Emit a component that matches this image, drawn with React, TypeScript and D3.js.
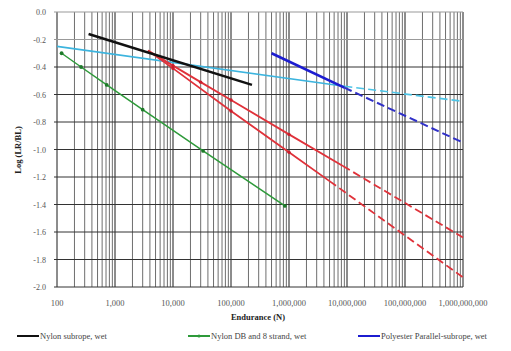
import React from 'react';
import * as d3 from 'd3';

// endurance (cycles) vs log(LR/BL)
const xTicks = [100, 1000, 10000, 100000, 1000000, 10000000, 100000000, 1000000000];
const yTicks = [0, -0.2, -0.4, -0.6, -0.8, -1.0, -1.2, -1.4, -1.6, -1.8, -2.0];

const nylonSubrope = [[350, -0.16], [230000, -0.53]];
const nylonDB = [[120, -0.30], [260, -0.40], [720, -0.53], [3000, -0.71], [33000, -1.01], [850000, -1.41]];
const polyesterSolid = [[500000, -0.30], [9000000, -0.55]];
const polyesterDash = [[9000000, -0.55], [1000000000, -0.95]];
const cyanSolid = [[100, -0.25], [9000000, -0.54]];
const cyanDash = [[9000000, -0.54], [1000000000, -0.65]];
const redASolid = [[3700, -0.28], [10000, -0.39], [30000, -0.51], [100000, -0.64], [1000000, -0.89], [8500000, -1.12]];
const redADash = [[8500000, -1.12], [1000000000, -1.64]];
const redBSolid = [[3700, -0.28], [10000, -0.41], [100000, -0.72], [1000000, -1.02], [5000000, -1.23]];
const redBDash = [[5000000, -1.23], [1000000000, -1.93]];

const legendItems = [
  {label: 'Nylon subrope, wet', color: '#111', marker: false, x: 17},
  {label: 'Nylon DB  and 8 strand, wet', color: '#2e9a3a', marker: true, x: 188},
  {label: 'Polyester Parallel-subrope, wet', color: '#1c1cd0', marker: false, x: 358},
];

const W = 511, H = 351;
const m = {left: 57, right: 463, top: 12, bottom: 287};

export default function App() {
  const x = d3.scaleLog().domain([100, 1e9]).range([m.left, m.right]);
  const y = d3.scaleLinear().domain([0, -2]).range([m.top, m.bottom]);
  const line = d3.line<number[]>().x(d => x(d[0])).y(d => y(d[1]));

  // minor grid lines 2..9 in every decade
  const minors: number[] = [];
  for (let e = 2; e < 9; e++) {
    for (let k = 2; k <= 9; k++) minors.push(k * Math.pow(10, e));
  }
  const fmt = d3.format(',');
  const serif = '"Liberation Serif", "DejaVu Serif", serif';

  const path = (data: number[][], color: string, w: number, dash?: string) =>
    <path d={line(data) as string} fill="none" stroke={color} strokeWidth={w} strokeDasharray={dash} />;

  return (
    <svg width={W} height={H} style={{position: 'absolute', left: 0, top: 0, background: '#fff'}} fontFamily={serif}>
      <rect x={0} y={0} width={W} height={H} fill="#fff" />
      {minors.map((v, i) => (
        <line key={'m' + i} x1={x(v)} x2={x(v)} y1={m.top} y2={m.bottom} stroke="#6e6e6e" strokeWidth={1} />
      ))}
      {xTicks.map((v, i) => (
        <line key={'M' + i} x1={x(v)} x2={x(v)} y1={m.top} y2={m.bottom} stroke="#1a1a1a" strokeWidth={1} />
      ))}
      {yTicks.map((v, i) => (
        <line key={'h' + i} x1={m.left - 3} x2={m.right} y1={y(v)} y2={y(v)} stroke={v === 0 || v === -0.2 ? '#999' : '#333'} strokeWidth={1} />
      ))}
      {yTicks.map((v, i) => (
        <text key={'yt' + i} x={46} y={y(v) + 3} textAnchor="end" fontSize={8} fill="#555">{v.toFixed(1)}</text>
      ))}
      {xTicks.map((v, i) => (
        <text key={'xt' + i} x={x(v)} y={306} textAnchor="middle" fontSize={8.5} fill="#555">{fmt(v)}</text>
      ))}
      <text x={258} y={320} textAnchor="middle" fontSize={8.5} fontWeight="bold" fill="#222">Endurance (N)</text>
      <text transform="translate(21,150) rotate(-90)" textAnchor="middle" fontSize={8.5} fontWeight="bold" fill="#222">Log (LR/BL)</text>

      {path(cyanSolid, '#3cb4de', 1.6)}
      {path(cyanDash, '#4cc4e6', 1.6, '8,4')}
      {path(redASolid, '#e0323a', 1.8)}
      {path(redADash, '#e0323a', 1.8, '8,4')}
      {path(redBSolid, '#e0323a', 1.8)}
      {path(redBDash, '#e0323a', 1.8, '8,4')}
      {redASolid.slice(1, -1).concat(redBSolid.slice(1, -1)).map((d, i) => (
        <circle key={'r' + i} cx={x(d[0])} cy={y(d[1])} r={1.7} fill="#c81e2c" />
      ))}
      {path(nylonDB, '#2e9a3a', 1.5)}
      {nylonDB.map((d, i) => (
        <circle key={'g' + i} cx={x(d[0])} cy={y(d[1])} r={1.9} fill="#1e7a2a" />
      ))}
      {path(nylonSubrope, '#111', 2.6)}
      {path(polyesterSolid, '#1c1cd0', 2.6)}
      {path(polyesterDash, '#3030c8', 2, '8,4')}

      {legendItems.map((d, i) => (
        <g key={'l' + i}>
          <line x1={d.x} x2={d.x + 22} y1={336} y2={336} stroke={d.color} strokeWidth={2} />
          {d.marker && <circle cx={d.x + 11} cy={336} r={1.6} fill={d.color} />}
          <text x={d.x + 23} y={339} fontSize={8.5} fill="#444">{d.label}</text>
        </g>
      ))}
    </svg>
  );
}
